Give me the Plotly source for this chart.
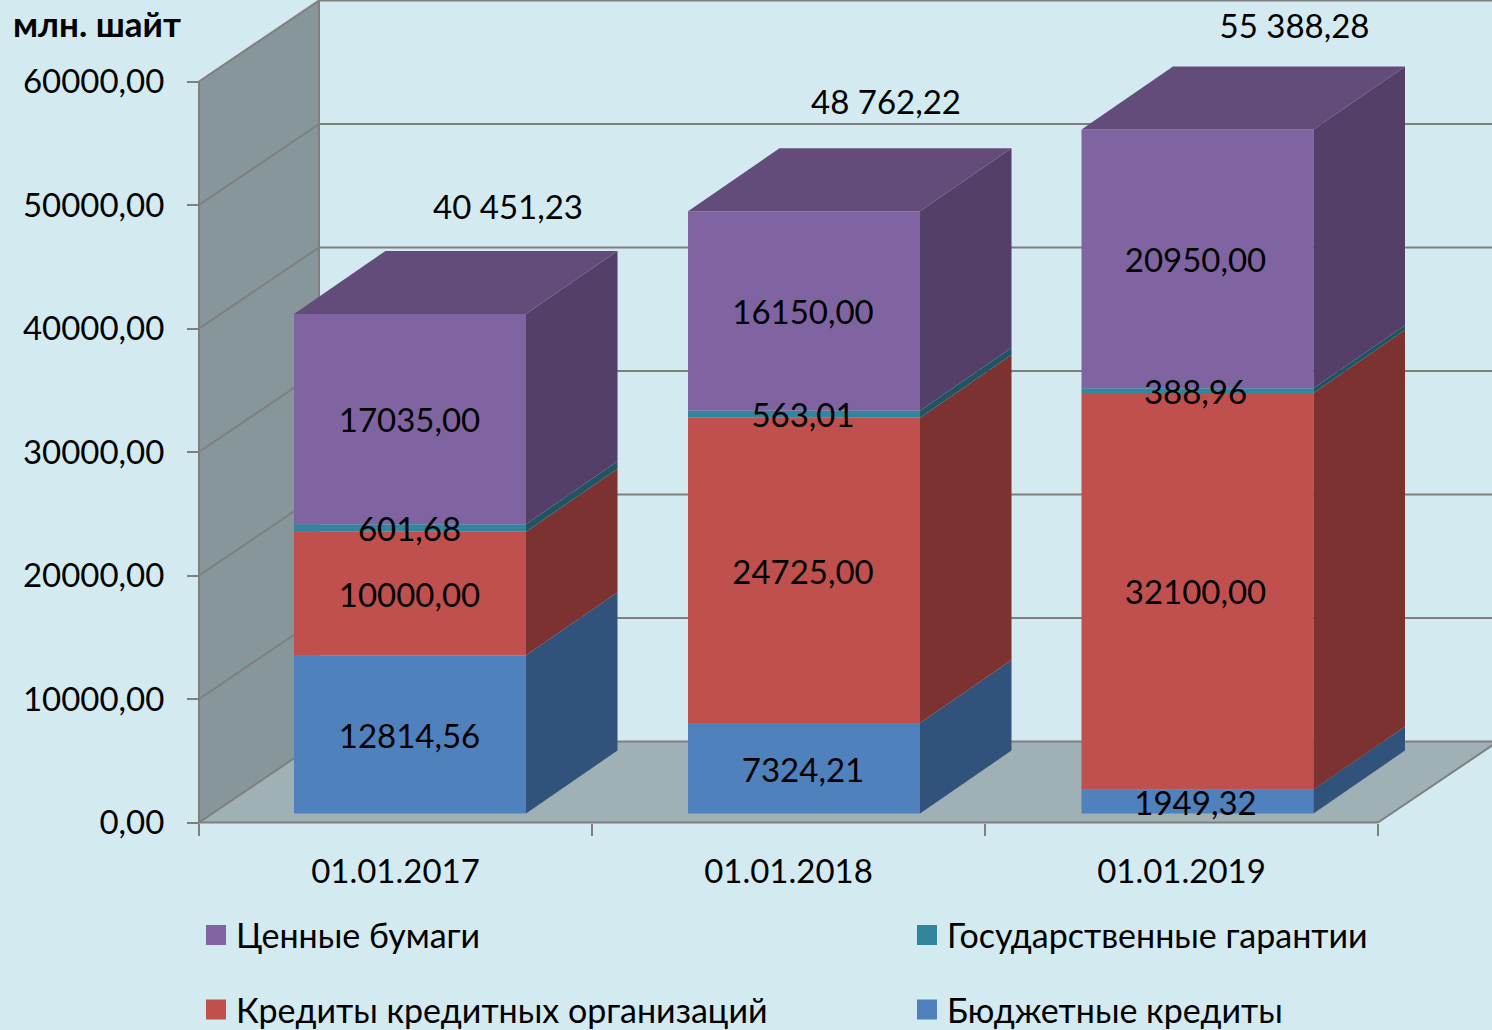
import plotly.graph_objects as go

categories = ["01.01.2017", "01.01.2018", "01.01.2019"]
budget = [12814.56, 7324.21, 1949.32]
credits = [10000.00, 24725.00, 32100.00]
guarantees = [601.68, 563.01, 388.96]
securities = [17035.00, 16150.00, 20950.00]
totals = ["40 451,23", "48 762,22", "55 388,28"]
y_ticks = [0, 10000, 20000, 30000, 40000, 50000, 60000]

series = [
    ("Бюджетные кредиты", budget, "#4F81BD", "#31527A"),
    ("Кредиты кредитных организаций", credits, "#C0504D", "#7B3230"),
    ("Государственные гарантии", guarantees, "#31859C", "#1F5563"),
    ("Ценные бумаги", securities, "#8064A2", "#533F68"),
]
TOP_COLOR = "#634C79"
BG = "#D2EAF0"
WALL = "#86969B"
FLOOR = "#A0B1B6"
GRID = "#7F7F7F"
FONT = "Lato"
FS = 33

W, H = 1492, 1030
X0, X_UNIT = 199, 393.0
Y0, Y_UNIT = 822.5, 741.0 / 60000


def ux(px):
    return px / X_UNIT


def uy(px):
    return px / Y_UNIT


x_range = [-0.5 - ux(X0), -0.5 + ux(W - X0)]
y_range = [-uy(H - Y0), uy(Y0)]

BOX_DX, BOX_DY = ux(120), uy(81)
BAR_W, BAR_DX, BAR_DY = ux(232), ux(91.5), uy(63)
bar_shift = [ux(14.5), ux(15.5), ux(16)]
label_shift = [ux(-0.5), ux(-1), ux(-2)]
label_dy = uy(-5)
bar_lift = uy(9)
total_dx = [ux(98), ux(82), ux(97)]
total_dy = [uy(108), uy(111), uy(105)]
centers = [i + s for i, s in enumerate(bar_shift)]
label_x = [c + s for c, s in zip(centers, label_shift)]

fig = go.Figure()
cum = [bar_lift] * 3
for name, vals, col, side in series:
    fig.add_trace(go.Bar(x=centers, y=vals, base=list(cum), width=BAR_W,
                         marker=dict(color=col, line_width=0), name=name, showlegend=False))
    for c, b, v in zip(centers, cum, vals):
        xr = c + BAR_W / 2
        fig.add_trace(go.Scatter(
            x=[xr, xr + BAR_DX, xr + BAR_DX, xr, xr],
            y=[b, b + BAR_DY, b + v + BAR_DY, b + v, b],
            mode="lines", fill="toself", fillcolor=side, line=dict(width=0),
            showlegend=False, hoverinfo="skip"))
    fig.add_trace(go.Scatter(
        x=label_x, y=[b + v / 2 + label_dy for b, v in zip(cum, vals)],
        text=[f"{v:.2f}".replace(".", ",") for v in vals],
        mode="text", textposition="middle center",
        textfont=dict(family=FONT, size=FS, color="#000000"),
        showlegend=False, hoverinfo="skip"))
    cum = [b + v for b, v in zip(cum, vals)]

for c, t in zip(centers, cum):
    xl, xr = c - BAR_W / 2, c + BAR_W / 2
    fig.add_trace(go.Scatter(
        x=[xl, xl + BAR_DX, xr + BAR_DX, xr, xl],
        y=[t, t + BAR_DY, t + BAR_DY, t, t],
        mode="lines", fill="toself", fillcolor=TOP_COLOR, line=dict(width=0),
        showlegend=False, hoverinfo="skip"))

fig.add_trace(go.Scatter(
    x=[c + d for c, d in zip(centers, total_dx)],
    y=[t + d + label_dy for t, d in zip(cum, total_dy)],
    text=totals, mode="text", textposition="middle center",
    textfont=dict(family=FONT, size=FS, color="#000000"),
    showlegend=False, hoverinfo="skip"))

# legend entries
legend_items = [
    ("Ценные бумаги", "#8064A2", 196, 935.5, "legend"),
    ("Государственные гарантии", "#31859C", 907, 935.5, "legend2"),
    ("Кредиты кредитных организаций", "#C0504D", 196, 1010, "legend3"),
    ("Бюджетные кредиты", "#4F81BD", 907, 1010, "legend4"),
]
legend_layout = {}
for name, col, lx, ly, key in legend_items:
    fig.add_trace(go.Scatter(x=[None], y=[None], mode="markers", name=name, legend=key,
                             marker=dict(symbol="square", size=21, color=col,
                                         line=dict(width=4, color=col))))
    legend_layout[key] = dict(x=lx / W, y=1 - ly / H, xanchor="left", yanchor="middle",
                              bgcolor="rgba(0,0,0,0)", borderwidth=0, itemsizing="trace",
                              font=dict(family=FONT, size=34, color="#000000"))


def poly(xs, ys, fill):
    path = "M" + " L".join(f"{a},{b}" for a, b in zip(xs, ys)) + " Z"
    return dict(type="path", path=path, xref="x", yref="y", fillcolor=fill,
                line=dict(width=0), layer="below")


def seg(xs, ys):
    return dict(type="line", x0=xs[0], x1=xs[1], y0=ys[0], y1=ys[1], xref="x", yref="y",
                line=dict(color=GRID, width=2), layer="below")


xa, xb = -0.5, 2.5
shapes = [
    poly([xa, xa + BOX_DX, xa + BOX_DX, xa], [0, BOX_DY, 60000 + BOX_DY, 60000], WALL),
    poly([xa, xb, xb + BOX_DX, xa + BOX_DX], [0, 0, BOX_DY, BOX_DY], FLOOR),
]
for t in y_ticks:
    shapes.append(seg([xa, xa + BOX_DX], [t, t + BOX_DY]))
    shapes.append(seg([xa + BOX_DX, xb + BOX_DX], [t + BOX_DY, t + BOX_DY]))
shapes.append(seg([xa, xa], [0, 60000]))
shapes.append(seg([xa, xb], [0, 0]))
shapes.append(seg([xb, xb + BOX_DX], [0, BOX_DY]))
shapes.append(seg([xa + BOX_DX, xa + BOX_DX], [BOX_DY, 60000 + BOX_DY]))

fig.update_layout(
    width=W, height=H, autosize=False,
    margin=dict(l=0, r=0, t=0, b=0, pad=0, autoexpand=False),
    paper_bgcolor=BG, plot_bgcolor=BG, barmode="overlay", shapes=shapes,
    font=dict(family=FONT, size=FS, color="#000000"),
    xaxis=dict(range=x_range, domain=[0, 1], anchor="free", position=(H - Y0) / H,
               automargin=False, tickmode="array", tickvals=[0, 1, 2], ticktext=categories,
               ticks="", showgrid=False, zeroline=False, showline=False,
               ticklabelstandoff=26, tickfont=dict(family=FONT, size=FS, color="#000000"),
               minor=dict(tickmode="array", tickvals=[-0.5, 0.5, 1.5, 2.5], ticks="outside",
                          ticklen=12, tickwidth=2, tickcolor=GRID, showgrid=False)),
    yaxis=dict(range=y_range, domain=[0, 1], anchor="free", position=X0 / W,
               automargin=False, tickmode="array", tickvals=y_ticks,
               ticktext=[f"{v:.2f}".replace(".", ",") for v in y_ticks],
               ticks="outside", ticklen=12, tickwidth=2, tickcolor=GRID,
               showgrid=False, zeroline=False, showline=False,
               ticklabelstandoff=16, tickfont=dict(family=FONT, size=FS, color="#000000")),
    annotations=[dict(text="<b>млн. шайт</b>", x=97 / W, y=1 - 23 / H, xref="paper", yref="paper",
                      xanchor="center", yanchor="middle", showarrow=False,
                      font=dict(family=FONT, size=35, color="#000000"))],
    **legend_layout,
)
fig.write_html("out.html", config=dict(displayModeBar=False),
               post_script="document.body.style.margin='0';document.documentElement.style.overflow='hidden';")
